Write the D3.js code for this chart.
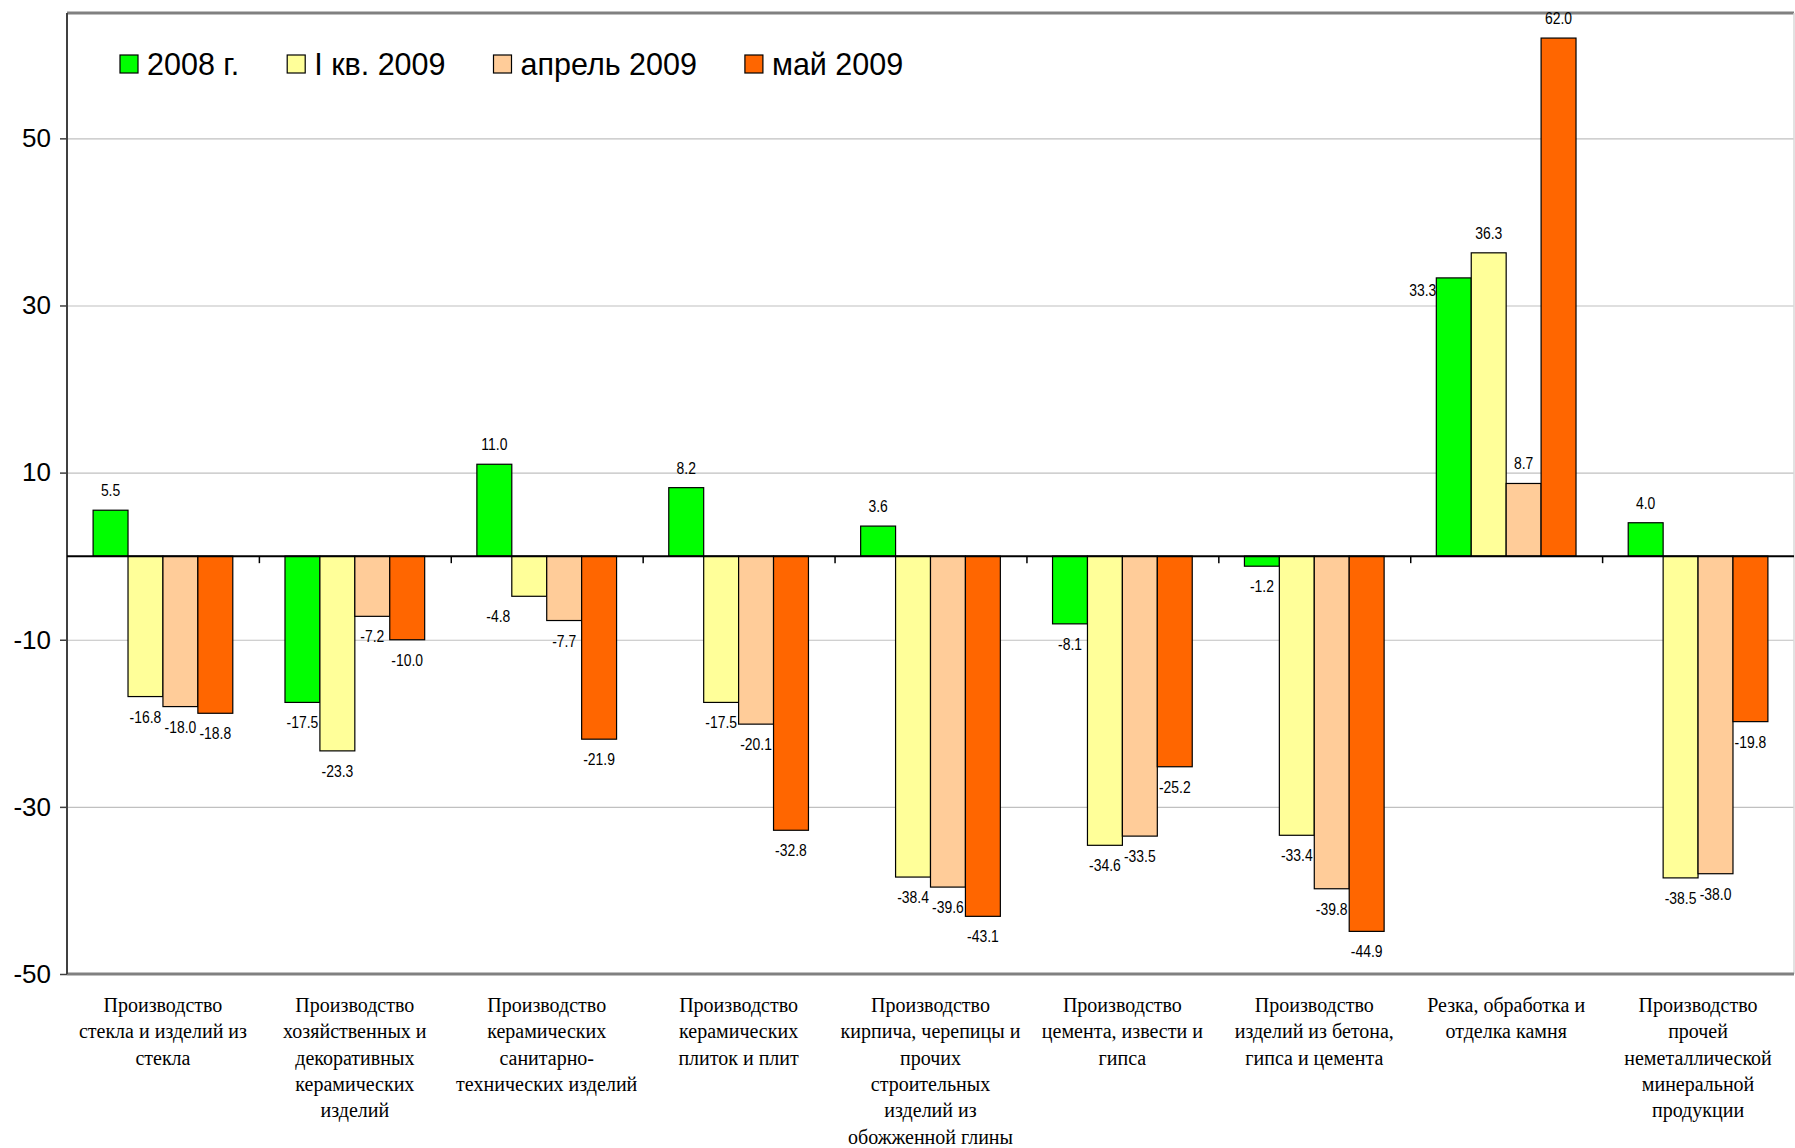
<!DOCTYPE html>
<html>
<head>
<meta charset="utf-8">
<script src="https://cdn.jsdelivr.net/npm/d3@7"></script>
<style>
  body { margin: 0; background: #fff; }
  .valLabel { font-family: "Liberation Sans", Arial, sans-serif; font-size: 17px; fill: #000; }
  .catLabel { font-family: "Liberation Serif", "Times New Roman", serif; font-size: 20px; fill: #000; }
  .yAxis text { font-family: "Liberation Sans", Arial, sans-serif; font-size: 26px; fill: #000; }
  .legendText { font-family: "Liberation Sans", Arial, sans-serif; font-size: 30.5px; fill: #000; }
</style>
</head>
<body>
<div id="chart"></div>
<script>
// Chart data
var categories = [
    "Производство\nстекла и изделий из\nстекла",
    "Производство\nхозяйственных и\nдекоративных\nкерамических\nизделий",
    "Производство\nкерамических\nсанитарно-\nтехнических изделий",
    "Производство\nкерамических\nплиток и плит",
    "Производство\nкирпича, черепицы и\nпрочих\nстроительных\nизделий из\nобожженной глины",
    "Производство\nцемента, извести и\nгипса",
    "Производство\nизделий из бетона,\nгипса и цемента",
    "Резка, обработка и\nотделка камня",
    "Производство\nпрочей\nнеметаллической\nминеральной\nпродукции"
];
var seriesNames = ["2008 г.", "I кв. 2009", "апрель 2009", "май 2009"];
var values2008 = [5.5, -17.5, 11.0, 8.2, 3.6, -8.1, -1.2, 33.3, 4.0];
var valuesQ1 = [-16.8, -23.3, -4.8, -17.5, -38.4, -34.6, -33.4, 36.3, -38.5];
var valuesApr = [-18.0, -7.2, -7.7, -20.1, -39.6, -33.5, -39.8, 8.7, -38.0];
var valuesMay = [-18.8, -10.0, -21.9, -32.8, -43.1, -25.2, -44.9, 62.0, -19.8];
var yTicks = [-50, -30, -10, 10, 30, 50];

var colors = ["#00ff00", "#ffff99", "#ffcc99", "#ff6600"];
var seriesValues = [values2008, valuesQ1, valuesApr, valuesMay];

// SVG size
var svgWidth = 1795;
var svgHeight = 1148;

// plot area
var plot = { left: 67, right: 1794, top: 13, bottom: 974 };

var svg = d3.select("#chart")
    .append("svg")
    .attr("width", svgWidth)
    .attr("height", svgHeight);

// scales
var xScale = d3.scaleBand()
    .domain(d3.range(categories.length))
    .range([plot.left, plot.right])
    .padding(0);

var step = xScale.step();
var sidePad = step * 0.136;

var xInner = d3.scaleBand()
    .domain(d3.range(seriesNames.length))
    .range([sidePad, step - sidePad])
    .padding(0);

var yScale = d3.scaleLinear()
    .domain([-50, 65])
    .range([plot.bottom, plot.top]);

// gridlines
svg.append("g")
    .attr("transform", `translate(${plot.left}, 0)`)
    .call(d3.axisLeft(yScale).tickValues(yTicks).tickSize(-(plot.right - plot.left)).tickFormat(""))
    .call(g => g.select(".domain").remove())
    .selectAll("line")
    .attr("stroke", "#c0c0c0")
    .attr("stroke-width", 1.2);

// plot border (top / right light, bottom grey thick)
svg.append("line")
    .attr("x1", plot.left).attr("x2", plot.right)
    .attr("y1", plot.top).attr("y2", plot.top)
    .attr("stroke", "#808080").attr("stroke-width", 3);
svg.append("line")
    .attr("x1", plot.right).attr("x2", plot.right)
    .attr("y1", plot.top).attr("y2", plot.bottom)
    .attr("stroke", "#d8d8d8").attr("stroke-width", 1.5);
svg.append("line")
    .attr("x1", plot.left).attr("x2", plot.right)
    .attr("y1", yScale(-50)).attr("y2", yScale(-50))
    .attr("stroke", "#808080").attr("stroke-width", 3);

// y axis (plain hyphen for negatives)
svg.append("g")
    .attr("class", "yAxis")
    .attr("transform", `translate(${plot.left}, 0)`)
    .call(d3.axisLeft(yScale).tickValues(yTicks).tickSize(7).tickPadding(9).tickFormat(d => String(d)))
    .call(g => g.select(".domain").attr("stroke", "#404040").attr("stroke-width", 2)
        .attr("d", `M0,${plot.top}V${plot.bottom}`))
    .call(g => g.selectAll(".tick line").attr("stroke", "#404040").attr("stroke-width", 1.5));

// bars
var groups = svg.selectAll(".cat")
    .data(categories)
    .enter()
    .append("g")
    .attr("class", "cat")
    .attr("transform", (d, i) => `translate(${xScale(i)}, 0)`);

seriesValues.forEach(function(vals, s) {
    groups.append("rect")
        .attr("x", xInner(s))
        .attr("width", xInner.bandwidth())
        .attr("y", (d, i) => yScale(Math.max(0, vals[i])))
        .attr("height", (d, i) => Math.abs(yScale(vals[i]) - yScale(0)))
        .attr("fill", colors[s])
        .attr("stroke", "#000")
        .attr("stroke-width", 1.2);
});

// zero line with category ticks
svg.append("g")
    .attr("transform", `translate(0, ${yScale(0)})`)
    .call(d3.axisBottom(d3.scaleLinear().domain([0, categories.length]).range([plot.left, plot.right]))
        .tickValues(d3.range(1, categories.length)).tickSize(7).tickFormat(""))
    .call(g => g.select(".domain").attr("stroke", "#000").attr("stroke-width", 2).attr("d", `M${plot.left},0H${plot.right}`))
    .call(g => g.selectAll(".tick line").attr("stroke", "#000").attr("stroke-width", 1.5));

// a couple of labels moved aside as in the original
var nudge = { "1|2": [-31, 0], "0|7": [-31, 32] };
function nx(s, i) { return nudge[s + "|" + i] ? nudge[s + "|" + i][0] : 0; }
function ny(s, i) { return nudge[s + "|" + i] ? nudge[s + "|" + i][1] : 0; }

// value labels (narrow look, squeezed horizontally)
seriesValues.forEach(function(vals, s) {
    groups.append("text")
        .attr("class", "valLabel")
        .attr("text-anchor", "middle")
        .attr("dominant-baseline", "central")
        .attr("transform", (d, i) => `translate(${xInner(s) + xInner.bandwidth() / 2 + nx(s, i)}, ${yScale(vals[i]) + (vals[i] >= 0 ? -20 : 20) + ny(s, i)}) scale(0.82, 1)`)
        .text((d, i) => vals[i].toFixed(1));
});

// category labels
groups.append("text")
    .attr("class", "catLabel")
    .attr("text-anchor", "middle")
    .each(function(d) {
        var t = d3.select(this);
        d.split("\n").forEach(function(line, k) {
            t.append("tspan")
                .attr("x", step / 2)
                .attr("y", 1005 + k * 26.3)
                .attr("dominant-baseline", "central")
                .text(line);
        });
    });

// legend
var legend = svg.append("g").attr("transform", "translate(120, 64)");
var lx = 0;
seriesNames.forEach(function(name, s) {
    legend.append("rect")
        .attr("x", lx).attr("y", -9)
        .attr("width", 18).attr("height", 18)
        .attr("fill", colors[s])
        .attr("stroke", "#000")
        .attr("stroke-width", 1.2);
    var txt = legend.append("text")
        .attr("class", "legendText")
        .attr("x", lx + 27)
        .attr("y", 0)
        .attr("dominant-baseline", "central")
        .text(name);
    lx += 27 + txt.node().getComputedTextLength() + 48;
});
</script>
</body>
</html>
